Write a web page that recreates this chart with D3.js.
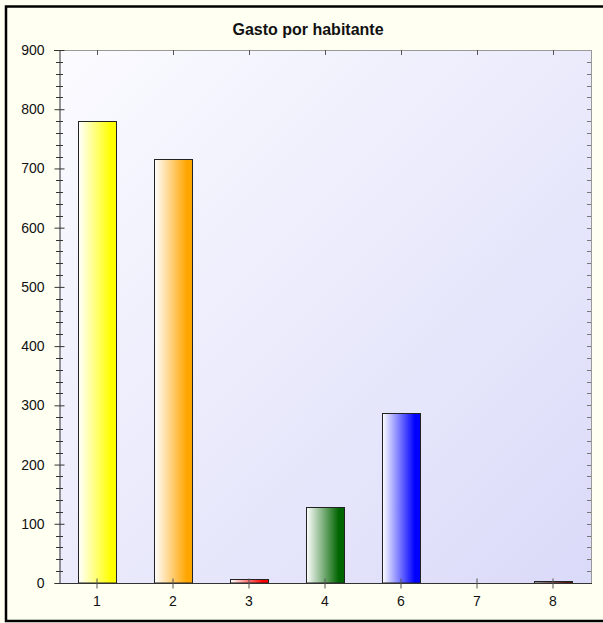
<!DOCTYPE html>
<html><head><meta charset="utf-8">
<script src="https://cdn.jsdelivr.net/npm/d3@7"></script>
<style>
html,body{margin:0;padding:0;background:#fffff2;}
svg{display:block;}
text{font-family:"Liberation Sans",Arial,sans-serif;}
</style></head>
<body>
<script>
const title = "Gasto por habitante";
const categories = ["1","2","3","4","6","7","8"];
const values = [780, 716, 6, 128, 287, 0, 4];
const colors = ["#ffff00","#ffa500","#ff0000","#006400","#0000ff","#808080","#8b0000"];
const yTicks = [0,100,200,300,400,500,600,700,800,900];

const W = 603, H = 623;
const pLeft = 59, pRight = 591, pTop = 50, pBottom = 583;

const svg = d3.select("body").append("svg").attr("width", W).attr("height", H);
const defs = svg.append("defs");

svg.append("rect").attr("x",0).attr("y",0).attr("width",W).attr("height",H).attr("fill","#fffff2");
svg.append("rect").attr("x",6).attr("y",6.5).attr("width",W+10).attr("height",614.5)
  .attr("fill","none").attr("stroke","#000").attr("stroke-width",2.5);

const pg = defs.append("linearGradient").attr("id","plotg").attr("x1",0).attr("y1",0).attr("x2",1).attr("y2",1);
pg.append("stop").attr("offset",0).attr("stop-color","#fbfbff");
pg.append("stop").attr("offset",1).attr("stop-color","#dadaf9");

svg.append("rect").attr("x",pLeft).attr("y",pTop).attr("width",pRight-pLeft).attr("height",pBottom-pTop)
  .attr("fill","url(#plotg)");

const x = d3.scaleBand().domain(categories).range([pLeft,pRight]).paddingInner(0.5).paddingOuter(0.25);
const y = d3.scaleLinear().domain([0,900]).range([pBottom,pTop]);

categories.forEach((c,i)=>{
  const g = defs.append("linearGradient").attr("id","bg"+i).attr("x1",0).attr("y1",0).attr("x2",1).attr("y2",0);
  g.append("stop").attr("offset",0).attr("stop-color","#ffffff");
  g.append("stop").attr("offset",0.85).attr("stop-color",colors[i]);
  g.append("stop").attr("offset",1).attr("stop-color",colors[i]);
});

const data = categories.map((c,i)=>({c, v:values[i], i}));
svg.append("g").selectAll("rect").data(data.filter(d=>d.v>0)).join("rect")
  .attr("x", d=>Math.round(x(d.c))+0.5)
  .attr("y", d=>Math.round(y(d.v))+0.5)
  .attr("width", Math.round(x.bandwidth()))
  .attr("height", d=>pBottom - Math.round(y(d.v)) - 0.5)
  .attr("fill", d=>"url(#bg"+d.i+")")
  .attr("stroke","#222").attr("stroke-width",1);

svg.append("line").attr("x1",pLeft).attr("x2",pRight).attr("y1",pTop+0.5).attr("y2",pTop+0.5).attr("stroke","#999");
svg.append("line").attr("x1",pRight+0.5).attr("x2",pRight+0.5).attr("y1",pTop).attr("y2",pBottom).attr("stroke","#999");
svg.append("line").attr("x1",54).attr("x2",pLeft).attr("y1",pTop+0.5).attr("y2",pTop+0.5).attr("stroke","#333");

const yAxis = d3.axisLeft(y).tickValues(yTicks).tickSize(5).tickPadding(10);
const ga = svg.append("g").attr("transform",`translate(${pLeft+0.5},0)`).call(yAxis);
ga.select(".domain").attr("stroke","#333");
ga.selectAll(".tick line").attr("stroke","#333").attr("x2",-5).attr("x1",5);
ga.selectAll(".tick text").attr("font-size",14).attr("fill","#111").attr("x",-15);

const minor = d3.range(0,901,20).filter(v=>v%100!==0);
svg.append("g").selectAll("line").data(minor).join("line")
  .attr("x1",56).attr("x2",63)
  .attr("y1",d=>Math.round(y(d))+0.5).attr("y2",d=>Math.round(y(d))+0.5).attr("stroke","#333");
svg.append("g").selectAll("line").data(d3.range(20,900,20)).join("line")
  .attr("x1",pRight-4).attr("x2",pRight)
  .attr("y1",d=>Math.round(y(d))+0.5).attr("y2",d=>Math.round(y(d))+0.5).attr("stroke","#777");

svg.append("g").selectAll("line").data(categories).join("line")
  .attr("x1",d=>Math.round(x(d)+x.bandwidth()/2)+0.5).attr("x2",d=>Math.round(x(d)+x.bandwidth()/2)+0.5)
  .attr("y1",pTop).attr("y2",pTop+5).attr("stroke","#555");

const xAxis = d3.axisBottom(x).tickSize(5).tickPadding(10);
const gx = svg.append("g").attr("transform",`translate(0,${pBottom+0.5})`).call(xAxis);
gx.select(".domain").attr("stroke","#333").attr("d",`M${pLeft},0H${pRight+1}`);
gx.selectAll(".tick line").attr("stroke","#555").attr("y1",-5).attr("y2",5);
gx.selectAll(".tick text").attr("font-size",14).attr("fill","#111").attr("y",13);

svg.append("text").attr("x",308).attr("y",35).attr("text-anchor","middle")
  .attr("font-size",16).attr("font-weight","bold").attr("fill","#111").text(title);
</script>
</body></html>
